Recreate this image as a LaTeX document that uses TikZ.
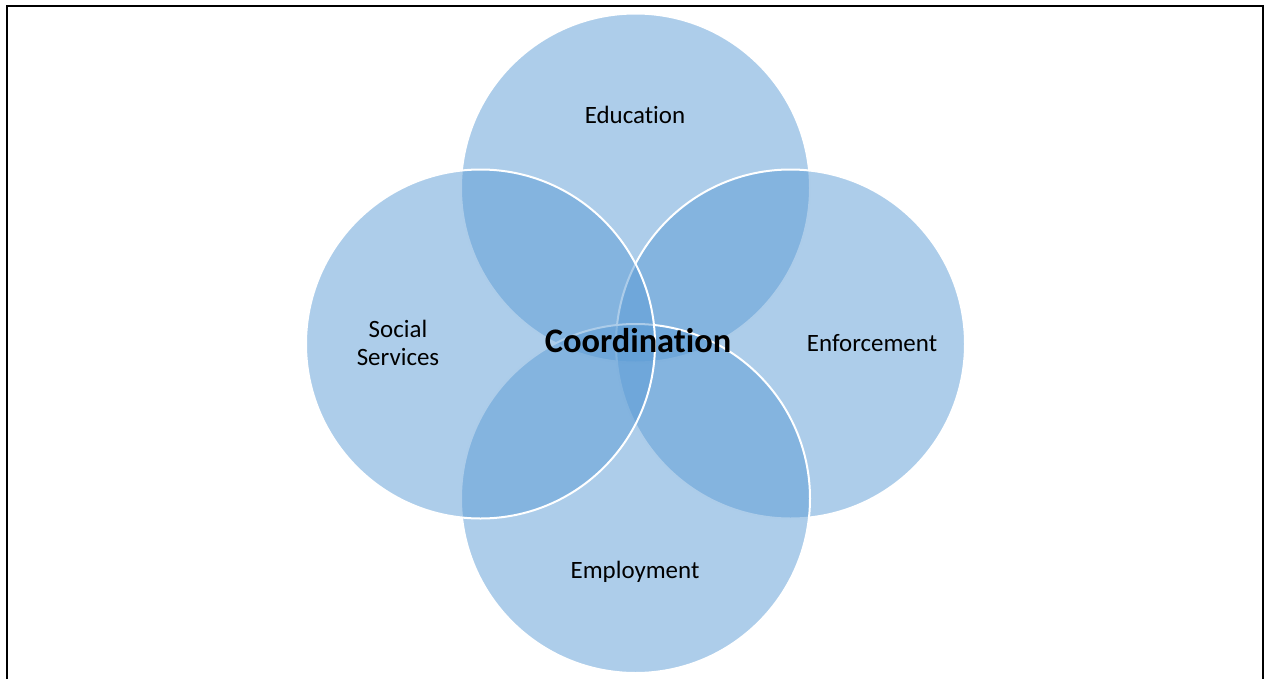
\documentclass[tikz,border=0pt]{standalone}
\usepackage{fontspec}
\setmainfont[Ligatures={NoCommon}]{Carlito}
\usetikzlibrary{positioning}
\definecolor{venn}{HTML}{5B9BD5}

\begin{document}
\begin{tikzpicture}[
  x=0.75pt, y=-0.75pt,
  ring/.style={circle, draw=white, line width=1.5pt, fill=venn, fill opacity=0.5,
               minimum size=261.75pt, inner sep=0pt},
  lbl/.style={font=\fontsize{18.7}{21}\selectfont, align=center, text=black},
  hub/.style={font=\fontsize{25.8}{30}\selectfont\bfseries, text=black}
]
  \useasboundingbox (0,0) rectangle (1265,679);

  % frame, open at the bottom
  \draw[line width=1.5pt] (6.5,679) -- (6.5,5.5) -- (1263,5.5) -- (1263,679);

  % the four circles
  \node[ring] (education) at (635.5,188) {};
  \node[ring] (enforcement) at (790.5,344) {};
  \node[ring] (employment) at (635.5,498.5) {};
  \node[ring] (social) at (480.5,344) {};

  % labels
  \node[lbl] (educationtext) at (635,115) {Education};
  \node[lbl] (socialtext) at (398,343) {Social\\Services};
  \node[lbl] (enforcementtext) at (872,343) {Enforcement};
  \node[lbl] (employmenttext) at (635,572) {Employment};
  \node[hub] (coordination) at (638,341) {Coordination};
\end{tikzpicture}
\end{document}
